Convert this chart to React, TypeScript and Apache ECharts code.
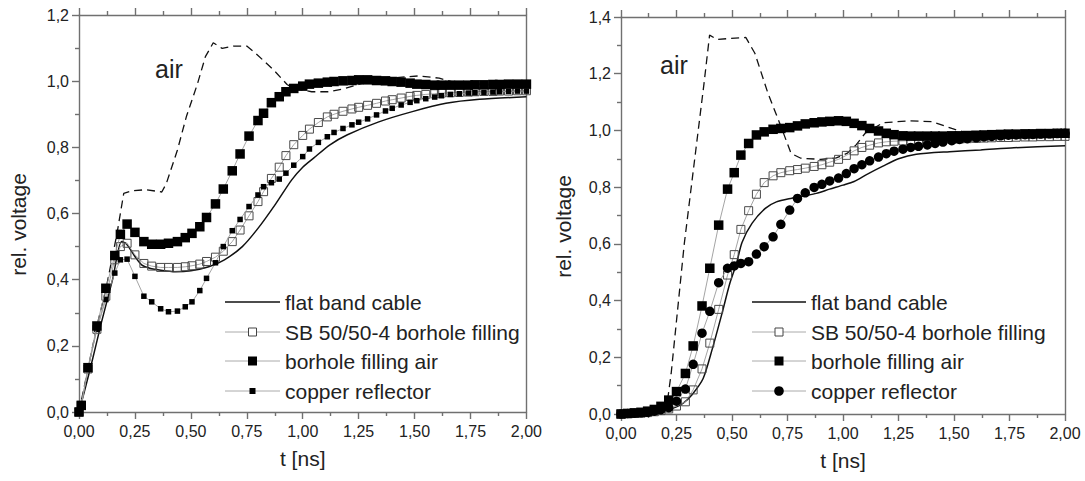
import React, { useEffect, useRef } from "react";
import * as echarts from "echarts";

const FONT = '"Liberation Sans", Arial, Helvetica, sans-serif';
const TEXT = "#222";
const AXIS = "#707070";

// ---------- left panel: time samples of the marker curves [ns] ----------
const leftTime = [
  0, 0.01, 0.04, 0.08, 0.12, 0.16, 0.185, 0.215, 0.25, 0.29, 0.325, 0.365, 0.4, 0.44, 0.475,
  0.505, 0.54, 0.57, 0.61, 0.645, 0.685, 0.72, 0.76, 0.8, 0.825, 0.86, 0.895, 0.925, 0.96, 1.0,
  1.03, 1.07, 1.11, 1.14, 1.18, 1.22, 1.25, 1.29, 1.33, 1.37, 1.4, 1.44, 1.48, 1.51, 1.55, 1.59,
  1.62, 1.66, 1.7, 1.74, 1.77, 1.81, 1.85, 1.88, 1.92, 1.96, 2.0,
];
const leftSB = [
  0, 0.02, 0.13, 0.25, 0.35, 0.46, 0.5, 0.51, 0.475, 0.449, 0.441, 0.437, 0.437, 0.437, 0.439,
  0.442, 0.447, 0.455, 0.468, 0.486, 0.515, 0.55, 0.593, 0.636, 0.666, 0.706, 0.74, 0.775, 0.808,
  0.836, 0.855, 0.875, 0.892, 0.9, 0.909, 0.916, 0.921, 0.927, 0.933, 0.94, 0.944, 0.949, 0.954,
  0.957, 0.96, 0.962, 0.964, 0.965, 0.966, 0.967, 0.968, 0.969, 0.969, 0.97, 0.97, 0.971, 0.971,
];
const leftFillingAir = [
  0, 0.02, 0.134, 0.26, 0.374, 0.473, 0.537, 0.568, 0.543, 0.515, 0.507, 0.507, 0.51, 0.515,
  0.527, 0.54, 0.56, 0.588, 0.629, 0.674, 0.729, 0.78, 0.834, 0.881, 0.903, 0.935, 0.953, 0.968,
  0.978, 0.985, 0.991, 0.994, 0.997, 0.999, 1.001, 1.002, 1.004, 1.004, 1.002, 1.001, 0.999,
  0.997, 0.994, 0.991, 0.99, 0.988, 0.988, 0.988, 0.988, 0.988, 0.989, 0.989, 0.99, 0.99, 0.991,
  0.991, 0.991,
];
const leftCopper = [
  0, 0.02, 0.13, 0.25, 0.34, 0.42, 0.46, 0.462, 0.41, 0.35, 0.333, 0.312, 0.303, 0.305, 0.318,
  0.333, 0.367, 0.404, 0.451, 0.5, 0.548, 0.582, 0.621, 0.656, 0.681, 0.693, 0.704, 0.722, 0.746,
  0.772, 0.795, 0.815, 0.832, 0.845, 0.857, 0.868, 0.876, 0.886, 0.898, 0.91, 0.918, 0.928, 0.936,
  0.941, 0.947, 0.952, 0.956, 0.96, 0.962, 0.964, 0.965, 0.966, 0.967, 0.968, 0.969, 0.97, 0.97,
];
const leftFlatTime = [
  0, 0.05, 0.1, 0.15, 0.19, 0.21, 0.25, 0.28, 0.32, 0.36, 0.43, 0.5, 0.58, 0.65, 0.73, 0.8, 0.88,
  0.95, 1.0, 1.05, 1.12, 1.2, 1.34, 1.49, 1.64, 1.79, 2.0,
];
const leftFlat = [
  0, 0.13, 0.27, 0.4, 0.515, 0.51, 0.47, 0.445, 0.434, 0.429, 0.424, 0.427, 0.439, 0.46, 0.5,
  0.555, 0.63, 0.701, 0.74, 0.768, 0.807, 0.838, 0.877, 0.908, 0.933, 0.945, 0.953,
];
const leftAirTime = [
  0, 0.04, 0.08, 0.12, 0.17, 0.2, 0.24, 0.3, 0.37, 0.39, 0.44, 0.48, 0.53, 0.565, 0.6, 0.64, 0.69,
  0.75, 0.79, 0.87, 0.93, 0.96, 1.04, 1.12, 1.19, 1.25, 1.3, 1.4, 1.52, 1.61, 1.67, 1.8, 2.0,
];
const leftAir = [
  0, 0.13, 0.26, 0.37, 0.54, 0.661, 0.669, 0.672, 0.665, 0.69, 0.792, 0.893, 0.993, 1.074, 1.116,
  1.099, 1.106, 1.106, 1.084, 1.034, 0.99, 0.978, 0.968, 0.968, 0.978, 0.99, 1.0, 1.01, 1.016,
  1.009, 0.998, 0.99, 0.99,
];

// ---------- right panel ----------
const rightTime = [
  0, 0.03, 0.06, 0.09, 0.12, 0.15, 0.18, 0.215, 0.25, 0.29, 0.325, 0.365, 0.4, 0.44, 0.48, 0.51,
  0.54, 0.575, 0.61, 0.645, 0.685, 0.72, 0.76, 0.795, 0.83, 0.87, 0.905, 0.94, 0.98, 1.015, 1.05,
  1.085, 1.12, 1.16, 1.195, 1.23, 1.27, 1.305, 1.34, 1.38, 1.415, 1.45, 1.49, 1.525, 1.56, 1.6,
  1.635, 1.67, 1.71, 1.745, 1.78, 1.82, 1.855, 1.89, 1.93, 1.965, 2.0,
];
const rightSB = [
  0, 0.001, 0.002, 0.003, 0.005, 0.008, 0.012, 0.018, 0.028, 0.043, 0.085, 0.159, 0.25, 0.369,
  0.49, 0.562, 0.651, 0.717, 0.775, 0.816, 0.84, 0.851, 0.858, 0.862, 0.867, 0.873, 0.879, 0.888,
  0.898, 0.912, 0.928, 0.94, 0.948, 0.956, 0.96, 0.962, 0.963, 0.964, 0.965, 0.966, 0.967, 0.968,
  0.969, 0.97, 0.971, 0.972, 0.973, 0.974, 0.975, 0.975, 0.976, 0.977, 0.977, 0.978, 0.978, 0.979,
  0.979,
];
const rightFillingAir = [
  0, 0.002, 0.004, 0.006, 0.01, 0.016, 0.027, 0.049, 0.079, 0.143, 0.24, 0.381, 0.514, 0.666,
  0.793, 0.851, 0.913, 0.954, 0.984, 0.995, 1.004, 1.007, 1.01, 1.016, 1.023, 1.027, 1.03, 1.032,
  1.034, 1.032, 1.025, 1.017, 1.007, 0.998, 0.99, 0.985, 0.981, 0.98, 0.98, 0.98, 0.98, 0.98,
  0.981, 0.981, 0.982, 0.983, 0.984, 0.985, 0.986, 0.987, 0.987, 0.988, 0.988, 0.989, 0.989, 0.99,
  0.99,
];
const rightCopper = [
  0, 0.002, 0.003, 0.004, 0.006, 0.01, 0.015, 0.022, 0.045, 0.088, 0.175, 0.285, 0.362, 0.463,
  0.514, 0.522, 0.531, 0.537, 0.564, 0.59, 0.625, 0.669, 0.719, 0.76, 0.78, 0.799, 0.81, 0.822,
  0.832, 0.848, 0.865, 0.879, 0.893, 0.906, 0.918, 0.927, 0.934, 0.94, 0.944, 0.949, 0.954, 0.959,
  0.964, 0.968, 0.971, 0.974, 0.977, 0.979, 0.981, 0.983, 0.984, 0.985, 0.986, 0.987, 0.988, 0.989,
  0.99,
];
const rightFlatTime = [
  0, 0.1, 0.2, 0.25, 0.28, 0.32, 0.37, 0.41, 0.455, 0.49, 0.52, 0.545, 0.59, 0.65, 0.7, 0.77, 0.83,
  0.88, 0.94, 1.0, 1.05, 1.11, 1.18, 1.25, 1.33, 1.48, 1.62, 1.77, 2.0,
];
const rightFlat = [
  0, 0.002, 0.012, 0.025, 0.038, 0.068, 0.125, 0.226, 0.355, 0.46, 0.53, 0.605, 0.672, 0.725,
  0.748, 0.761, 0.77, 0.778, 0.793, 0.807, 0.82, 0.846, 0.874, 0.9, 0.916, 0.925, 0.931, 0.939,
  0.946,
];
const rightAirTime = [
  0, 0.1, 0.18, 0.21, 0.226, 0.285, 0.337, 0.374, 0.399, 0.433, 0.485, 0.562, 0.603, 0.662, 0.721,
  0.766, 0.81, 0.9, 0.97, 1.02, 1.06, 1.1, 1.18, 1.3, 1.4, 1.49, 1.55, 1.7, 2.0,
];
const rightAir = [
  0, 0.005, 0.015, 0.05, 0.143, 0.6, 0.931, 1.166, 1.336, 1.321, 1.324, 1.328, 1.272, 1.131, 1.013,
  0.919, 0.902, 0.898, 0.903, 0.92, 0.95, 0.99, 1.027, 1.034, 1.031, 1.007, 0.993, 0.99, 0.99,
];

const yTicksLeft = [0, 0.2, 0.4, 0.6, 0.8, 1.0, 1.2];
const yTicksRight = [0, 0.2, 0.4, 0.6, 0.8, 1.0, 1.2, 1.4];

const legendNames = [
  "flat band cable",
  "SB 50/50-4 borhole filling",
  "borhole filling air",
  "copper reflector",
];

const pairs = (ts: number[], vs: number[]) => ts.map((t, i) => [t, vs[i]]);

type Kind = "line" | "openSquare" | "bigSquare" | "smallSquare" | "circle";

function axes(yMax: number, yNameGap: number) {
  const lineStyle = { color: AXIS, width: 1.4 };
  const xBase = {
    type: "value",
    min: 0,
    max: 2,
    interval: 0.25,
    splitLine: { show: false },
    axisLine: { show: true, onZero: false, lineStyle },
    axisTick: { show: true, inside: false, length: 7, lineStyle },
    minorTick: { show: true, splitNumber: 2, length: 4, lineStyle },
  };
  const yBase = {
    type: "value",
    min: 0,
    max: yMax,
    interval: 0.2,
    splitLine: { show: false },
    axisLine: { show: true, onZero: false, lineStyle },
  };
  return {
    xAxis: [
      {
        ...xBase,
        position: "bottom",
        name: "t [ns]",
        nameLocation: "middle",
        nameGap: 36,
        nameTextStyle: { fontSize: 21, color: TEXT, fontFamily: FONT },
        axisLabel: {
          margin: 11,
          fontSize: 16,
          color: TEXT,
          fontFamily: FONT,
          formatter: (v: number) => v.toFixed(2).replace(".", ","),
        },
      },
      { ...xBase, position: "top", axisLabel: { show: false } },
    ],
    yAxis: [
      {
        ...yBase,
        position: "left",
        name: "rel. voltage",
        nameLocation: "middle",
        nameGap: yNameGap,
        // right padding of the rotated title moves its text a little lower on screen
        nameTextStyle: { fontSize: 21, color: TEXT, fontFamily: FONT, padding: [0, 22, 0, 0] },
        axisTick: { show: true, inside: false, length: 7, lineStyle },
        minorTick: { show: true, splitNumber: 2, length: 4, lineStyle },
        axisLabel: {
          margin: 10,
          fontSize: 16,
          color: TEXT,
          fontFamily: FONT,
          formatter: (v: number) => v.toFixed(1).replace(".", ","),
        },
      },
      { ...yBase, position: "right", axisTick: { show: false }, axisLabel: { show: false } },
    ],
  };
}

function legendGraphic(x0: number, x1: number, textX: number, kinds: Kind[]) {
  const rowsY = [302, 332, 361, 391];
  const cx = (x0 + x1) / 2;
  const els: any[] = [];
  kinds.forEach((kind, i) => {
    const y = rowsY[i];
    els.push({
      type: "line",
      shape: { x1: x0, y1: y, x2: x1, y2: y },
      style: { stroke: kind === "line" ? "#111" : "#aaa", lineWidth: kind === "line" ? 1.5 : 1 },
    });
    if (kind === "openSquare") {
      els.push({
        type: "rect",
        shape: { x: cx - 4, y: y - 4, width: 8, height: 8 },
        style: { fill: "#fff", stroke: "#444", lineWidth: 1 },
      });
    } else if (kind === "bigSquare") {
      els.push({ type: "rect", shape: { x: cx - 4.5, y: y - 4.5, width: 9, height: 9 }, style: { fill: "#000" } });
    } else if (kind === "smallSquare") {
      els.push({ type: "rect", shape: { x: cx - 3, y: y - 3, width: 6, height: 6 }, style: { fill: "#000" } });
    } else if (kind === "circle") {
      els.push({ type: "circle", shape: { cx, cy: y, r: 4.8 }, style: { fill: "#000" } });
    }
    els.push({
      type: "text",
      x: textX,
      y,
      style: {
        text: legendNames[i],
        font: `21px ${FONT}`,
        fill: TEXT,
        align: "left",
        verticalAlign: "middle",
      },
    });
  });
  return els;
}

const markerLine = { color: "#9a9a9a", width: 0.9 };

function buildOption(p: {
  grid: { left: number; top: number; width: number; height: number };
  yMax: number;
  yNameGap: number;
  airXY: [number, number];
  legend: [number, number, number];
  flat: number[][];
  air: number[][];
  sb: number[][];
  fillingAir: number[][];
  copper: number[][];
  copperSymbol: string;
  copperSize: number;
  copperKind: Kind;
}) {
  return {
    animation: false,
    backgroundColor: "#fff",
    grid: { ...p.grid, containLabel: false },
    ...axes(p.yMax, p.yNameGap),
    series: [
      {
        name: "air",
        type: "line",
        data: p.air,
        symbol: "none",
        lineStyle: { color: "#111", width: 1.3, type: [8, 5] },
        z: 1,
      },
      {
        name: legendNames[0],
        type: "line",
        data: p.flat,
        symbol: "none",
        smooth: 0.25,
        lineStyle: { color: "#111", width: 1.5 },
        z: 2,
      },
      {
        name: legendNames[1],
        type: "line",
        data: p.sb,
        symbol: "rect",
        symbolSize: 8,
        showAllSymbol: true,
        lineStyle: markerLine,
        itemStyle: { color: "rgba(255,255,255,0)", borderColor: "#4a4a4a", borderWidth: 1 },
        z: 3,
      },
      {
        name: legendNames[3],
        type: "line",
        data: p.copper,
        symbol: p.copperSymbol,
        symbolSize: p.copperSize,
        showAllSymbol: true,
        lineStyle: markerLine,
        itemStyle: { color: "#000" },
        z: 4,
      },
      {
        name: legendNames[2],
        type: "line",
        data: p.fillingAir,
        symbol: "rect",
        symbolSize: 9.5,
        showAllSymbol: true,
        lineStyle: markerLine,
        itemStyle: { color: "#000" },
        z: 5,
      },
    ],
    graphic: [
      {
        type: "text",
        x: p.airXY[0],
        y: p.airXY[1],
        style: { text: "air", font: `25px ${FONT}`, fill: TEXT, align: "left", verticalAlign: "middle" },
      },
      ...legendGraphic(p.legend[0], p.legend[1], p.legend[2], [
        "line",
        "openSquare",
        "bigSquare",
        p.copperKind,
      ]),
    ],
  };
}

const leftOption = buildOption({
  grid: { left: 78, top: 15, width: 450, height: 397 },
  yMax: yTicksLeft[yTicksLeft.length - 1],
  yNameGap: 50,
  airXY: [155, 69],
  legend: [225, 280, 285],
  flat: pairs(leftFlatTime, leftFlat),
  air: pairs(leftAirTime, leftAir),
  sb: pairs(leftTime, leftSB),
  fillingAir: pairs(leftTime, leftFillingAir),
  copper: pairs(leftTime, leftCopper),
  copperSymbol: "rect",
  copperSize: 5.5,
  copperKind: "smallSquare",
});

const rightOption = buildOption({
  grid: { left: 69, top: 17, width: 451, height: 397 },
  yMax: yTicksRight[yTicksRight.length - 1],
  yNameGap: 47,
  airXY: [115, 65],
  legend: [207, 261, 266],
  flat: pairs(rightFlatTime, rightFlat),
  air: pairs(rightAirTime, rightAir),
  sb: pairs(rightTime, rightSB),
  fillingAir: pairs(rightTime, rightFillingAir),
  copper: pairs(rightTime, rightCopper),
  copperSymbol: "circle",
  copperSize: 9.5,
  copperKind: "circle",
});

function Panel({ option, style }: { option: any; style: React.CSSProperties }) {
  const ref = useRef<HTMLDivElement>(null);
  useEffect(() => {
    if (!ref.current) return;
    const chart = echarts.init(ref.current, null, { renderer: "svg" });
    chart.setOption(option);
    return () => chart.dispose();
  }, [option]);
  return <div ref={ref} style={style} />;
}

export default function App() {
  return (
    <div
      style={{
        position: "absolute",
        left: 0,
        top: 0,
        width: 1085,
        height: 481,
        background: "#fff",
        overflow: "hidden",
      }}
    >
      <Panel option={leftOption} style={{ position: "absolute", left: 0, top: 0, width: 545, height: 481 }} />
      <Panel option={rightOption} style={{ position: "absolute", left: 545, top: 0, width: 540, height: 481 }} />
    </div>
  );
}
